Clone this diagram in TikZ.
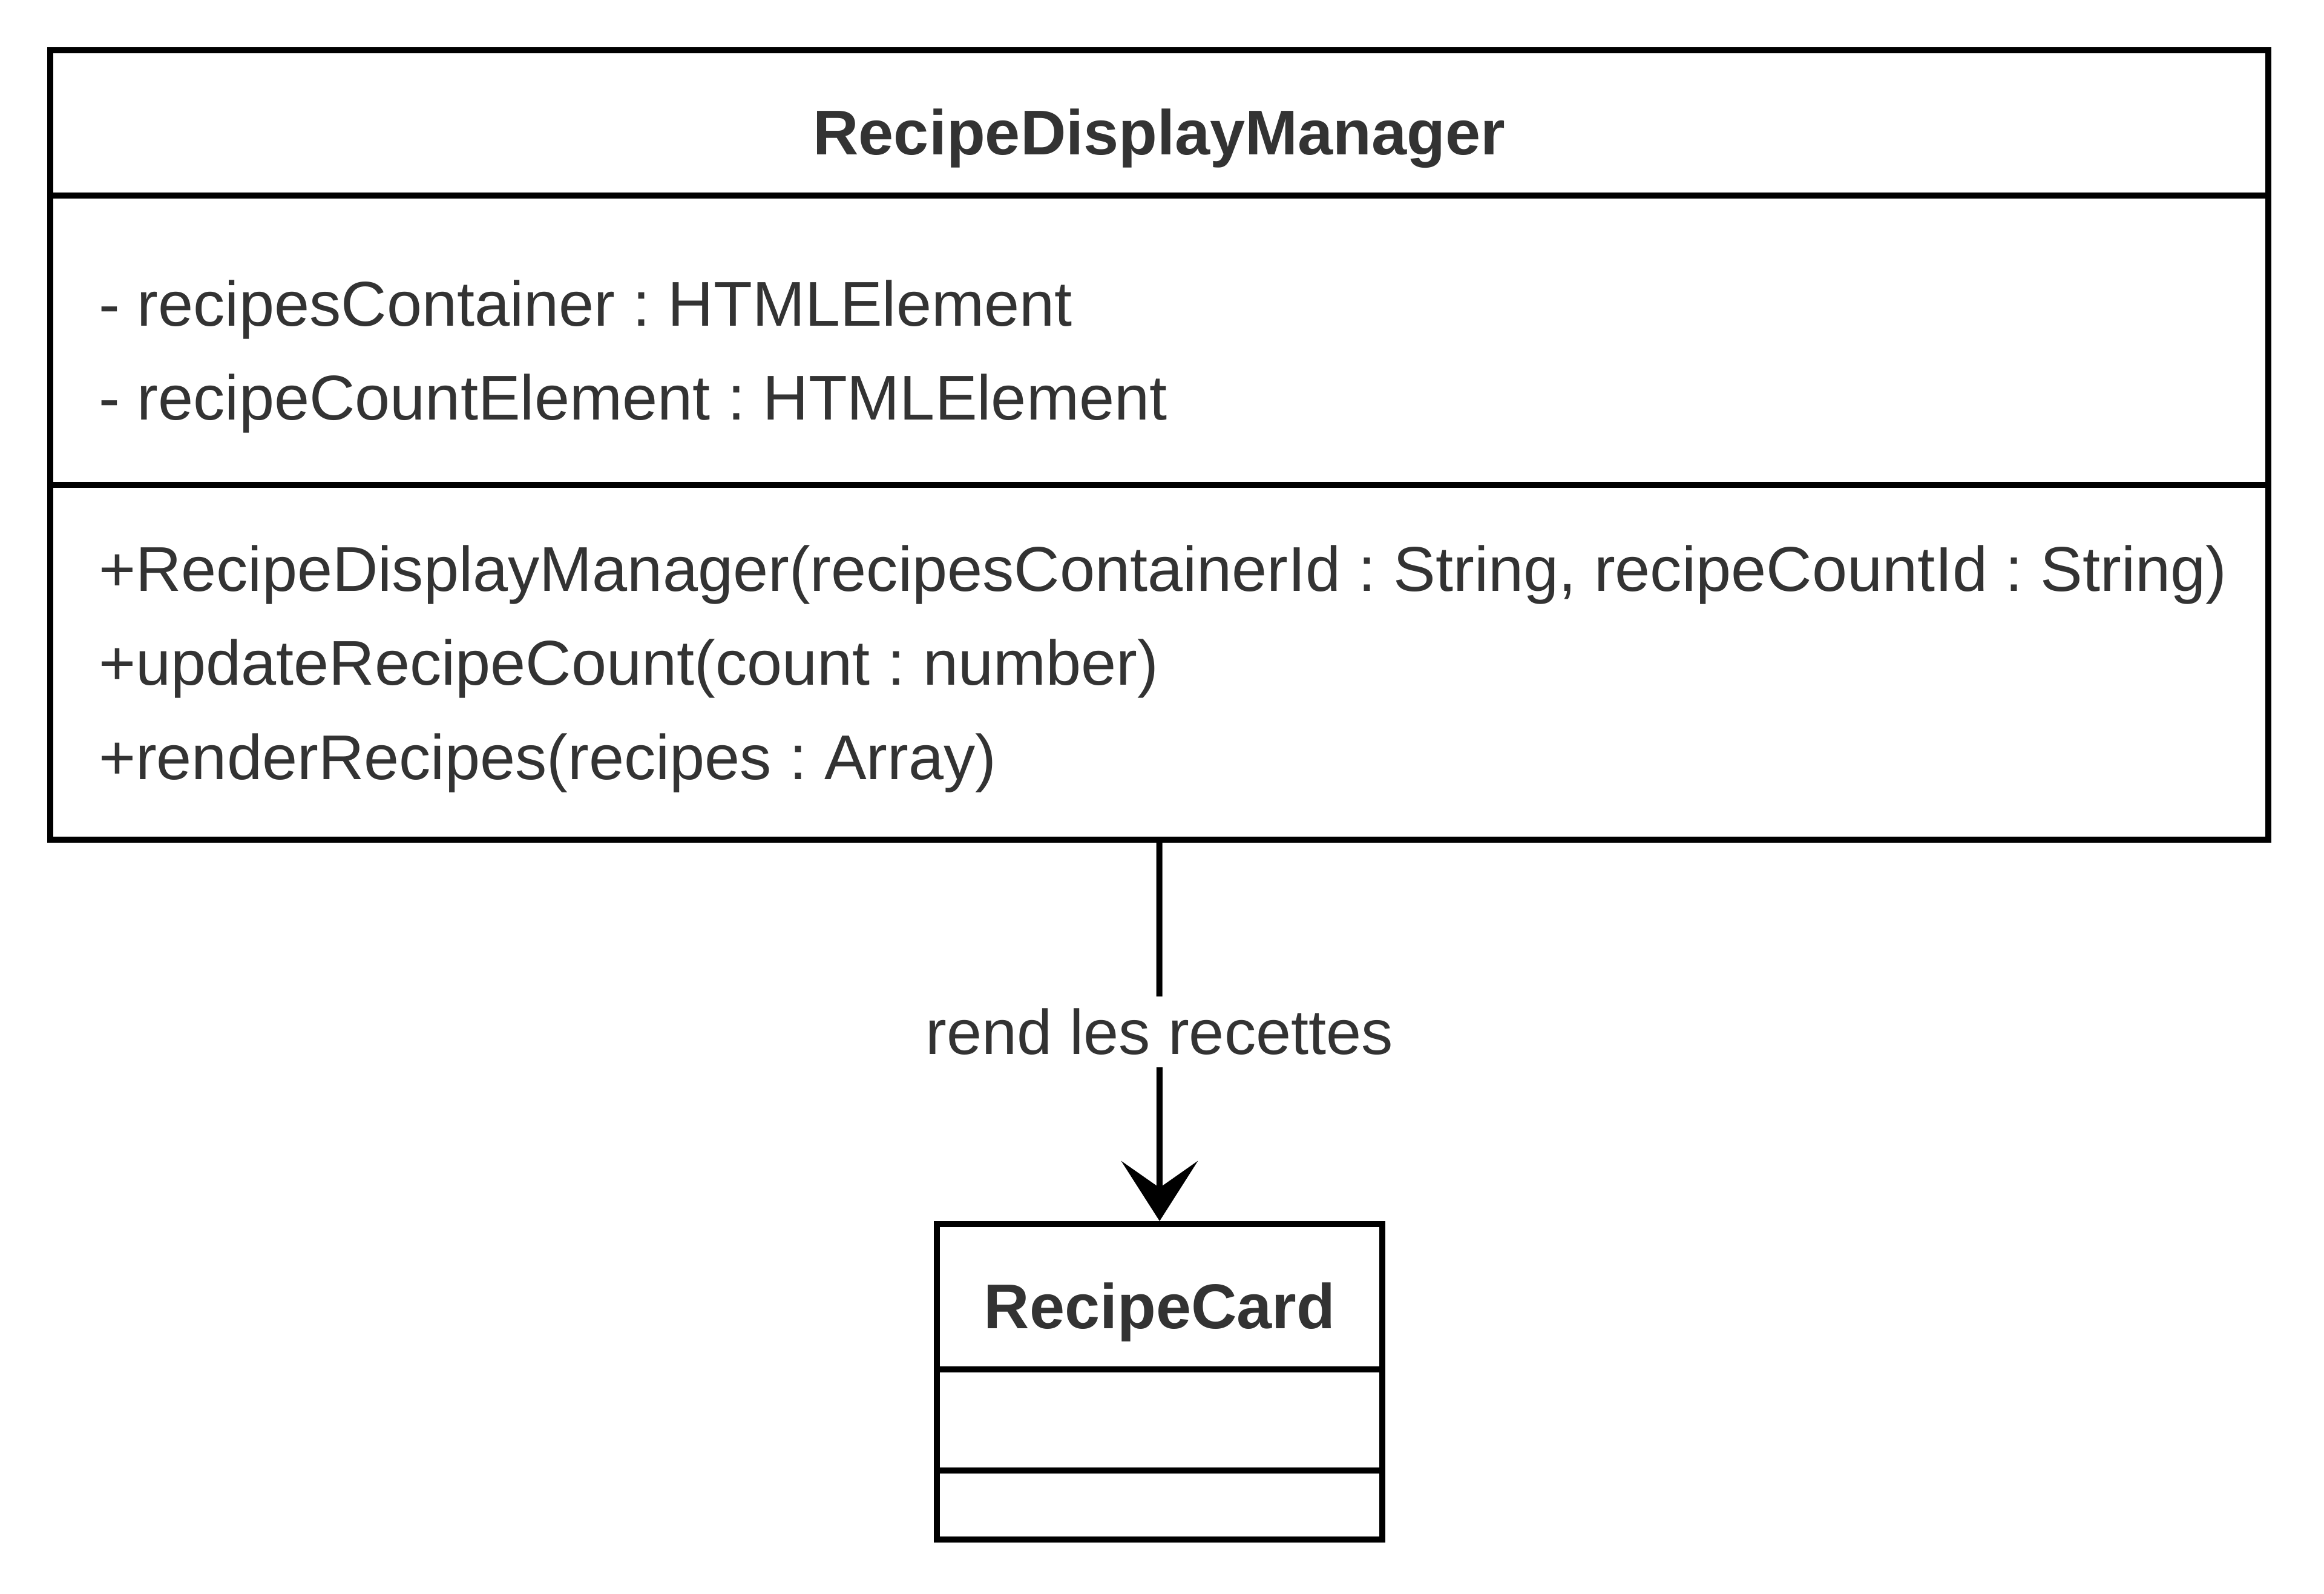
\documentclass[tikz,border=0pt]{standalone}
\usepackage{fontspec}
\setmainfont{Liberation Sans}
\usetikzlibrary{arrows.meta}
\definecolor{txtgray}{HTML}{333333}
\newcommand{\umlfnt}{\fontsize{20.9pt}{25pt}\selectfont}
\frenchspacing

\begin{document}
\begin{tikzpicture}[x=1pt,y=1pt,
   box/.style={draw,line width=2pt,inner sep=0pt},
   txt/.style={text=txtgray,inner sep=0pt,font=\umlfnt},
   cname/.style={txt,anchor=base,font=\umlfnt\bfseries},
   member/.style={txt,anchor=base west}]
   \useasboundingbox (0,0) rectangle (768,526.6);
   % class boxes
   \node[box,minimum width=733pt,minimum height=260.8pt]   (rdm)  at (383.1,379.6) {};
   \node[box,minimum width=147.2pt,minimum height=104.2pt] (card) at (383.2, 70.1) {};
   \draw[line width=2pt] ( 16.6,462.0) -- (749.6,462.0);
   \draw[line width=2pt] ( 16.6,366.4) -- (749.6,366.4);
   \draw[line width=2pt] (309.6, 74.2) -- (456.8, 74.2);
   \draw[line width=2pt] (309.6, 40.8) -- (456.8, 40.8);
   % names and members
   \node[cname]  (rdmname)  at (383.1,475.4) {RecipeDisplayManager};
   \node[member] (attr1)    at ( 32.4,418.9) {- recipesContainer : HTMLElement};
   \node[member] (attr2)    at ( 32.4,387.9) {- recipeCountElement : HTMLElement};
   \node[member] (meth1)    at ( 32.4,331.2) {+RecipeDisplayManager(recipesContainerId : String, recipeCountId : String)};
   \node[member] (meth2)    at ( 32.4,300.2) {+updateRecipeCount(count : number)};
   \node[member] (meth3)    at ( 32.4,269.0) {+renderRecipes(recipes : Array)};
   \node[cname]  (cardname) at (383.2, 87.6) {RecipeCard};
   % association
   \draw[line width=2pt,-{Stealth[length=19.9pt,width=25.4pt,inset=8.9pt,line width=0pt]}]
      (rdm.south) -- (card.north)
      node[midway,txt,fill=white,inner xsep=2pt,inner ysep=4pt] (lbl) {rend les recettes};
\end{tikzpicture}
\end{document}
